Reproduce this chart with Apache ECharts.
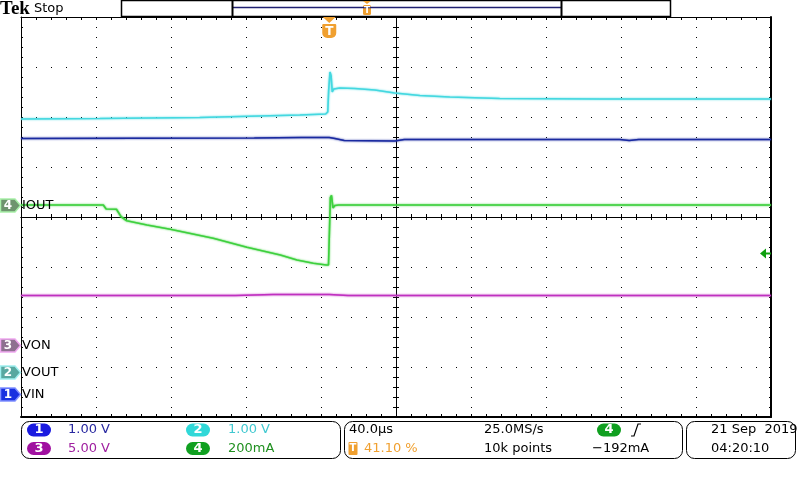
<!DOCTYPE html>
<html><head><meta charset="utf-8">
<script src="https://cdn.jsdelivr.net/npm/echarts@6/dist/echarts.min.js"></script>
<style>html,body{margin:0;padding:0;background:#fff}#c{width:800px;height:480px}</style>
</head><body><div id="c"></div>
<script>
// ---- acquisition settings ----
const TIME_PER_DIV = 40;      // µs/div
const TRIG_POS = 0.411;       // trigger position in record
const TRIG_LEVEL = -192;      // mA on CH4
const TMIN = -TRIG_POS * 10 * TIME_PER_DIV;
const TMAX = (1 - TRIG_POS) * 10 * TIME_PER_DIV;

// ---- channels: 1 VIN, 2 VOUT, 3 VON, 4 IOUT ----
const channelNames = ['VIN', 'VOUT', 'VON', 'IOUT'];
const channelScale = [1, 1, 5, 200];             // units / div
const channelUnits = ['V', 'V', 'V', 'mA'];
const channelOffsetDiv = [-3.54, -3.10, -2.56, 0.24]; // ground marker position (div from centre)

// ---- waveform data (time in µs) ----
const vinTime  = [-164.4, -40, -15, 0, 3, 8, 35, 40, 155, 160, 165, 235.6];
const vinVolts = [5.11, 5.12, 5.13, 5.13, 5.11, 5.07, 5.06, 5.09, 5.09, 5.07, 5.09, 5.09];

const voutTime  = [-164.4, -122.4, -69.1, -37.1, -15.7, -1.9, -0.8, -0.3, 0.4, 1.0, 1.6, 2.4, 5.6, 13.6, 24.3, 34.9, 48.3, 64.3, 90.9, 144.3, 235.6];
const voutVolts = [5.06, 5.07, 5.09, 5.12, 5.14, 5.16, 5.20, 5.64, 6.00, 5.92, 5.60, 5.66, 5.68, 5.67, 5.64, 5.58, 5.53, 5.50, 5.47, 5.46, 5.46];

const vonTime  = [-164.4, -50, -30, 0, 10, 235.6];
const vonVolts = [4.95, 4.95, 5.05, 5.05, 4.95, 4.95];

const ioutTime = [-164.4, -120.5, -119, -113.5, -111, -108, -97.2, -84.8, -61.9, -43.9, -26.1, -17.2, -8.5, -1.5, -0.4, 0.6, 1.2, 2.0, 3.0, 5, 235.6];
const ioutMA   = [0, 0, -16, -17, -47, -63, -80, -97, -133, -169, -200, -220, -233, -240, -240, 30, 39, -12, -2, 0, 0];

const channelData = [[vinTime, vinVolts], [voutTime, voutVolts], [vonTime, vonVolts], [ioutTime, ioutMA]];

// ---- styling ----
const FONT = '"DejaVu Sans", sans-serif';
const traceColor = ['#1a2aa0', '#44d8e0', '#c030c0', '#3ed03e'];
const markerFill = ['#1830e0', '#58a8a0', '#8e7090', '#6e946e'];
const markerHalo = ['#8090ff', '#a0f0f0', '#f0a8f0', '#a8f0a8'];
const pillColor = ['#1a1ae0', '#30d8d8', '#a010a0', '#10a020'];
const readoutColor = ['#2828a0', '#40c8d0', '#a020a0', '#209020'];
const ORANGE = '#f0a030';
const GRID = {left: 21, top: 17, width: 750, height: 400};

const chart = echarts.init(document.getElementById('c'), null, {renderer: 'canvas'});

function zip(a, b) { return a.map((t, i) => [t, b[i]]); }

const dotted = (d) => ({show: true, lineStyle: {color: '#000', width: 1, type: [1, d]}});
function divAxis(gi, pos, extra) {
  const isX = pos === 'top' || pos === 'bottom' || pos === 'cx';
  const n = isX ? 5 : 4;
  return Object.assign({
    gridIndex: gi, type: 'value', min: -n, max: n, interval: 1,
    position: pos === 'cx' ? 'bottom' : (pos === 'cy' ? 'left' : pos),
    axisLabel: {show: false},
    splitLine: {show: false},
    axisLine: {show: true, onZero: pos === 'cx' || pos === 'cy', lineStyle: {color: '#000', width: 1}},
    axisTick: {show: true, inside: true, length: 3, lineStyle: {color: '#000'}},
    minorTick: {show: true, splitNumber: 5, length: 3, lineStyle: {color: '#000'}}
  }, extra || {});
}

const yAxes = channelScale.map((s, i) => ({
  gridIndex: 0, type: 'value', show: false,
  min: (-4 - channelOffsetDiv[i]) * s, max: (4 - channelOffsetDiv[i]) * s
}));
yAxes.push(
  divAxis(1, 'left', {splitLine: dotted(14), axisTick: {show: true, inside: true, length: 2, lineStyle: {color: '#000'}}, minorTick: {show: true, splitNumber: 5, length: 2, lineStyle: {color: '#000'}}}),
  divAxis(1, 'right', {axisLine: {show: true, onZero: false, lineStyle: {color: '#000', width: 2}}, axisTick: {show: true, inside: true, length: 2, lineStyle: {color: '#000'}}, minorTick: {show: true, splitNumber: 5, length: 2, lineStyle: {color: '#000'}}}),
  divAxis(2, 'cy'),
  divAxis(3, 'cy', {axisTick: {show: true, inside: false, length: 3, lineStyle: {color: '#000'}}})
);

const xAxes = [
  {gridIndex: 0, type: 'value', show: false, min: TMIN, max: TMAX},
  divAxis(1, 'bottom', {splitLine: dotted(9), axisLine: {show: true, onZero: false, lineStyle: {color: '#000', width: 2}}}),
  divAxis(1, 'top'),
  divAxis(2, 'cx'),
  divAxis(3, 'cx', {axisTick: {show: true, inside: false, length: 3, lineStyle: {color: '#000'}}})
];

const series = channelData.map((d, i) => ({
  type: 'line', xAxisIndex: 0, yAxisIndex: i, data: zip(d[0], d[1]),
  showSymbol: false, symbol: 'none', silent: true, z: 5 + i,
  lineStyle: {color: traceColor[i], width: 1.6, shadowColor: traceColor[i], shadowBlur: 2}
}));

chart.setOption({
  animation: false,
  backgroundColor: '#fff',
  grid: [0, 1, 2, 3].map(() => Object.assign({containLabel: false}, GRID)),
  xAxis: xAxes,
  yAxis: yAxes,
  series: series
});

// ---- decorations placed through the axes ----
const g = [];
function txt(x, y, s, color, o) {
  o = o || {};
  g.push({type: 'text', x: x, y: y, z: 100, style: {text: s, fill: color, font: (o.font || ('13px ' + FONT)), align: o.align || 'left', verticalAlign: 'middle'}});
}
function rect(x, y, w, h, r, fill, stroke, lw) {
  g.push({type: 'rect', z: 90, shape: {x: x, y: y, width: w, height: h, r: r}, style: {fill: fill, stroke: stroke, lineWidth: lw || 1}});
}
function pill(x, y, num, color) {
  rect(x, y - 6.5, 24, 13, 6.5, color, null);
  txt(x + 12, y, String(num), '#fff', {align: 'center', font: 'bold 13px ' + FONT});
}

// header
txt(0, 9, 'Tek', '#000', {font: 'bold 19px "Liberation Serif", serif'});
txt(34, 9, 'Stop', '#000');
rect(121.5, 0.5, 549, 16, 0, '#fff', '#000', 1.5);
g.push({type: 'line', z: 95, shape: {x1: 233, y1: 7.5, x2: 561, y2: 7.5}, style: {stroke: '#202070', lineWidth: 1.5}});
g.push({type: 'line', z: 95, shape: {x1: 232.5, y1: 1, x2: 232.5, y2: 16}, style: {stroke: '#000', lineWidth: 2}});
g.push({type: 'line', z: 95, shape: {x1: 561.5, y1: 1, x2: 561.5, y2: 16}, style: {stroke: '#000', lineWidth: 2}});
g.push({type: 'polygon', z: 96, shape: {points: [[363, 1], [371, 1], [367, 4]]}, style: {fill: ORANGE}});
rect(363, 5, 8, 10, 1.5, ORANGE, null);
txt(367, 10.5, 'T', '#fff', {align: 'center', font: 'bold 9px ' + FONT});

// trigger position marker
const tx = chart.convertToPixel({xAxisIndex: 0}, 0);
g.push({type: 'polygon', z: 96, shape: {points: [[tx - 6.5, 17], [tx + 6.5, 17], [tx, 23]]}, style: {fill: ORANGE}});
rect(tx - 7, 24, 14, 14, [1, 1, 5, 5], ORANGE, null);
txt(tx, 31.5, 'T', '#fff', {align: 'center', font: 'bold 12px ' + FONT});

// channel ground markers
channelNames.forEach((name, i) => {
  const y = Math.round(chart.convertToPixel({yAxisIndex: i}, 0)) + 0.5;
  g.push({type: 'polygon', z: 97, shape: {points: [[0.5, y - 6.5], [15, y - 6.5], [20.5, y], [15, y + 6.5], [0.5, y + 6.5]]},
    style: {fill: markerFill[i], stroke: markerHalo[i], lineWidth: 1.5}});
  txt(8, y + 0.5, String(i + 1), '#fff', {align: 'center', font: 'bold 12px ' + FONT});
  txt(22, y, name, '#000');
});

// trigger level arrow on CH4
const ty = Math.round(chart.convertToPixel({yAxisIndex: 3}, TRIG_LEVEL)) + 0.5;
g.push({type: 'polygon', z: 97, shape: {points: [[760, ty], [766, ty - 5], [766, ty + 5]]}, style: {fill: '#10a010'}});
g.push({type: 'line', z: 97, shape: {x1: 765, y1: ty, x2: 771, y2: ty}, style: {stroke: '#10a010', lineWidth: 2}});

// status bar
const R1 = 430, R2 = 448.5;
rect(21.5, 421.5, 319, 37, 8, '#fff', '#000', 1);
rect(344.5, 421.5, 338, 37, 8, '#fff', '#000', 1);
rect(686.5, 421.5, 109, 37, 8, '#fff', '#000', 1);
const readPos = [[27, 68, R1], [186, 228, R1], [27, 68, R2], [186, 228, R2]];
readPos.forEach((p, i) => {
  pill(p[0], p[2], i + 1, pillColor[i]);
  const v = channelScale[i];
  const s = channelUnits[i] === 'V' ? v.toFixed(2) + ' V' : v + 'mA';
  txt(p[1], p[2], s, readoutColor[i]);
});
txt(349, R1, TIME_PER_DIV.toFixed(1) + 'µs', '#000');
rect(348.5, 442, 9, 13, 1, ORANGE, null);
txt(353, 448.5, 'T', '#fff', {align: 'center', font: 'bold 10px ' + FONT});
txt(364, R2, (TRIG_POS * 100).toFixed(2).replace(/0$/, '0') + ' %', ORANGE);
txt(484, R1, '25.0MS/s', '#000');
txt(484, R2, '10k points', '#000');
pill(597, R1, 4, pillColor[3]);
g.push({type: 'polyline', z: 97, shape: {points: [[631, 436], [634, 436], [638, 424], [641, 424]]}, style: {stroke: '#000', lineWidth: 1.2, fill: null}});
txt(592, R2, '\u2212' + Math.abs(TRIG_LEVEL) + 'mA', '#000');
txt(711, R1, '21 Sep  2019', '#000');
txt(711, R2, '04:20:10', '#000');

chart.setOption({graphic: g});
</script></body></html>
